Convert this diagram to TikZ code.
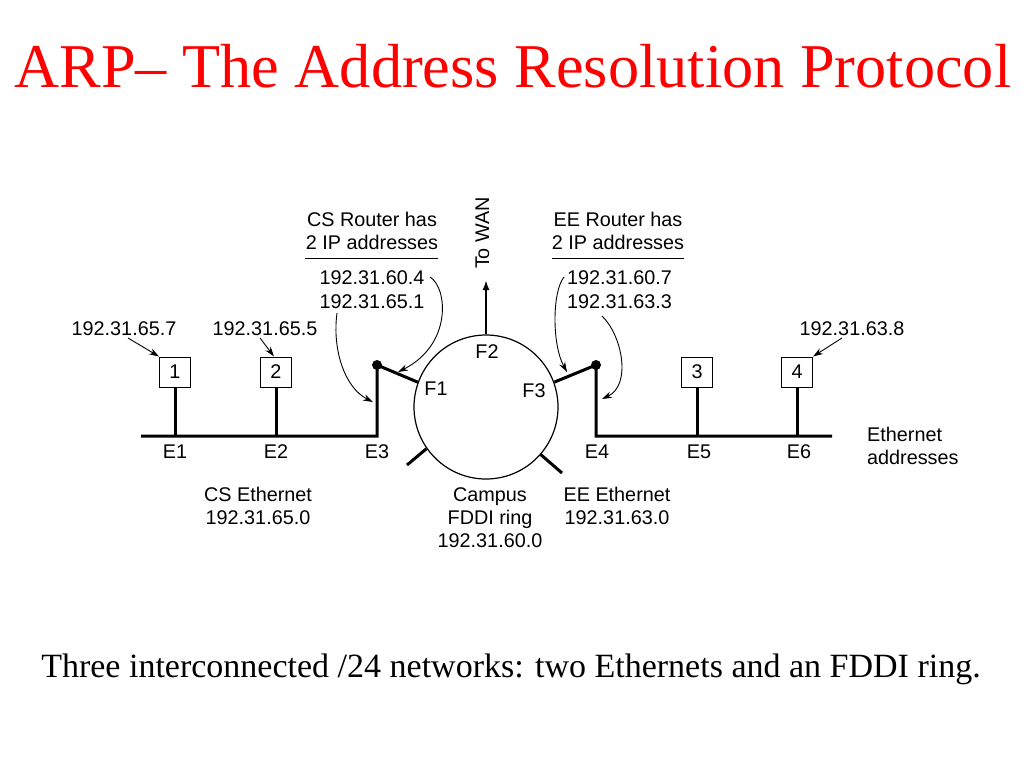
\documentclass[tikz,border=0pt]{standalone}
\usepackage{fontspec}
\setmainfont{Liberation Serif}
\newfontfamily\sansf{Liberation Sans}
\usetikzlibrary{arrows.meta,calc}
\begin{document}
\begin{tikzpicture}[x=1pt,y=-1pt,
  lbl/.style={font=\sansf\fontsize{19.8}{23}\selectfont, inner sep=0, anchor=base},
  lblw/.style={lbl, anchor=base west},
  bus/.style={line width=3pt},
  host/.style={draw, line width=1pt, minimum width=31pt, minimum height=30pt, inner sep=0,
    font=\sansf\fontsize{19.8}{23}\selectfont},
  ptr/.style={line width=0.9pt, -{Stealth[length=10pt,width=6.5pt]}},
  uline/.style={line width=1pt},
]
\useasboundingbox (0,0) rectangle (1024,768);
\fill[white] (0,0) rectangle (1024,768);

% title and caption
\node[anchor=base, inner sep=0, text=red, font=\fontsize{62.3}{70}\selectfont] (title) at (513,87) {ARP– The Address Resolution Protocol};
\node[anchor=base, inner sep=0, font=\fontsize{34}{38}\selectfont] (caption) at (511,677) {Three interconnected /24 networks: two Ethernets and an FDDI ring.};

% ring
\node[draw, circle, minimum size=144pt, line width=1.2pt, inner sep=0] (ring) at (486,407) {};

% hosts
\node[host] (h1) at (175,372) {1};
\node[host] (h2) at (276,372) {2};
\node[host] (h3) at (697,372) {3};
\node[host] (h4) at (797,372) {4};

% bus coordinates
\coordinate (busL) at (141,436);
\coordinate (e1) at (175,436);
\coordinate (e2) at (276,436);
\coordinate (e3) at (377,436);
\coordinate (r1) at (377,365);
\coordinate (e4) at (596,436);
\coordinate (r2) at (596,365);
\coordinate (e5) at (697,436);
\coordinate (e6) at (797,436);
\coordinate (busR) at (832,436);

\draw[bus, line join=miter] (busL) -- (e3) -- (r1) -- (ring.160);
\draw[bus, line join=miter] (busR) -- (e4) -- (r2) -- (ring.20);
\draw[bus] (h1.south) -- (e1);
\draw[bus] (h2.south) -- (e2);
\draw[bus] (h3.south) -- (e5);
\draw[bus] (h4.south) -- (e6);
\fill (r1) circle (5pt);
\fill (r2) circle (5pt);

% other ring stubs
\coordinate (s1) at (407,465);
\coordinate (s2) at (562,473);
\draw[bus] (ring.215) -- (s1);
\draw[bus] (ring.-41) -- (s2);

% to WAN
\coordinate (wan) at (486,280);
\draw[line width=2pt, -{Latex[length=10pt,width=7pt]}] (ring.north) -- (wan);
\node[lbl, rotate=90] (wantext) at (489,233) {To WAN};

% router labels
\node[lbl] (csr1) at (372,226) {CS Router has};
\node[lbl] (csr2) at (372,249) {2 IP addresses};
\coordinate (csuA) at (305,258);
\coordinate (csuB) at (438,258);
\draw[uline] (csuA) -- (csuB);
\node[lbl] (csip1) at (372,284) {192.31.60.4};
\node[lbl] (csip2) at (372,308) {192.31.65.1};

\node[lbl] (eer1) at (618,226) {EE Router has};
\node[lbl] (eer2) at (618,249) {2 IP addresses};
\coordinate (eeuA) at (552,258);
\coordinate (eeuB) at (684,258);
\draw[uline] (eeuA) -- (eeuB);
\node[lbl] (eeip1) at (619.5,284) {192.31.60.7};
\node[lbl] (eeip2) at (619.5,308) {192.31.63.3};

% router address pointers
\coordinate (p1s) at (430,277);
\coordinate (p1e) at (398,372);
\draw[ptr] (p1s) .. controls (448,288) and (452,345) .. (p1e);
\coordinate (p2s) at (337,313);
\coordinate (p2e) at (373,402);
\draw[ptr] (p2s) .. controls (332,350) and (345,388) .. (p2e);
\coordinate (p3s) at (564,277);
\coordinate (p3e) at (567,372);
\draw[ptr] (p3s) .. controls (552,292) and (552,345) .. (p3e);
\coordinate (p4s) at (602,316);
\coordinate (p4e) at (602,399);
\draw[ptr] (p4s) .. controls (622,335) and (632,385) .. (p4e);

% host addresses
\node[lbl] (a1) at (124,335) {192.31.65.7};
\node[lbl] (a2) at (265,335) {192.31.65.5};
\node[lbl] (a4) at (852,335) {192.31.63.8};
\coordinate (a1s) at (128,338);
\coordinate (a2s) at (260,338);
\coordinate (a4s) at (842,338);
\draw[ptr] (a1s) -- (h1.north west);
\draw[ptr] (a2s) -- ($(h2.north)+(-2,0)$);
\draw[ptr] (a4s) -- (h4.north east);

% E labels
\node[lbl] (E1) at (175,458) {E1};
\node[lbl] (E2) at (276,458) {E2};
\node[lbl] (E3) at (377,458) {E3};
\node[lbl] (E4) at (597,458) {E4};
\node[lbl] (E5) at (699,458) {E5};
\node[lbl] (E6) at (799,458) {E6};

% F labels
\node[lbl] (F2) at (487,358) {F2};
\node[lbl] (F1) at (436,395) {F1};
\node[lbl] (F3) at (534,397) {F3};

% Ethernet addresses
\node[lblw] (ea1) at (867,441) {Ethernet};
\node[lblw] (ea2) at (867,464) {addresses};

% network labels
\node[lbl] (cse1) at (258,501) {CS Ethernet};
\node[lbl] (cse2) at (258,524) {192.31.65.0};
\node[lbl] (fd1) at (490,501) {Campus};
\node[lbl] (fd2) at (490,524) {FDDI ring};
\node[lbl] (fd3) at (490,547) {192.31.60.0};
\node[lbl] (eee1) at (617,501) {EE Ethernet};
\node[lbl] (eee2) at (617,524) {192.31.63.0};
\end{tikzpicture}
\end{document}
